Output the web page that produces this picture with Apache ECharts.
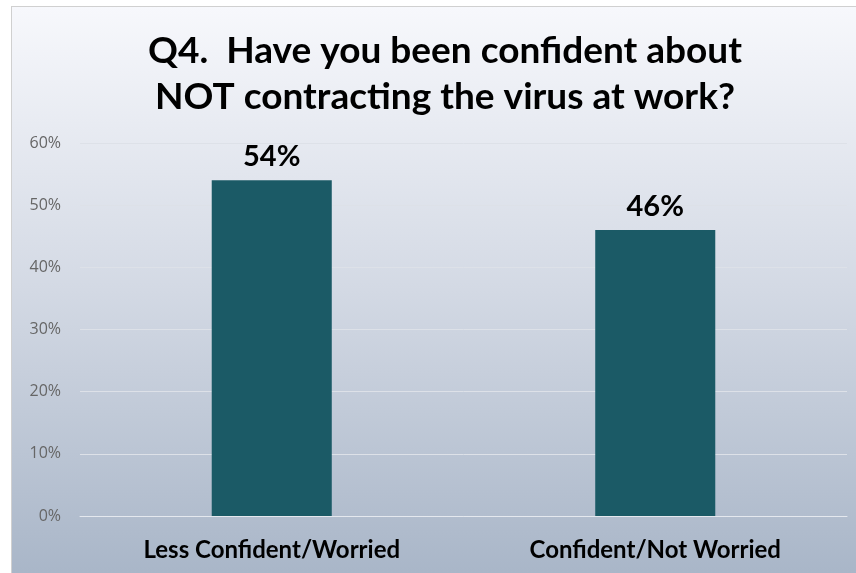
<!DOCTYPE html>
<html>
<head>
<meta charset="utf-8">
<script src="https://cdn.jsdelivr.net/npm/echarts@6/dist/echarts.min.js"></script>
<style>
html,body{margin:0;padding:0;background:#fff;width:856px;height:573px;overflow:hidden;}
#frame{position:absolute;left:11px;top:6px;width:845px;height:567px;border-left:1px solid #d0d0d0;border-top:1px solid #d0d0d0;box-sizing:border-box;}
#chart{position:absolute;left:12px;top:7px;width:844px;height:566px;}
</style>
</head>
<body>
<div id="frame"></div>
<div id="chart"></div>
<script>
var titleLines = ['Q4.  Have you been confident about', 'NOT contracting the virus at work?'];
var categories = ['Less Confident/Worried', 'Confident/Not Worried'];
var values = [54, 46];
var yTicks = [0, 10, 20, 30, 40, 50, 60];

var chart = echarts.init(document.getElementById('chart'), null, {renderer: 'canvas'});
chart.setOption({
  backgroundColor: new echarts.graphic.LinearGradient(0, 0, 0, 1, [
    {offset: 0, color: '#f7f8fc'},
    {offset: 0.5, color: '#d3d9e4'},
    {offset: 1, color: '#a9b6c8'}
  ]),
  animation: false,
  title: {
    text: titleLines.join('\n'),
    left: 428,
    top: 16,
    textAlign: 'center',
    textStyle: {fontFamily: 'Lato', fontWeight: 'bold', fontSize: 37, lineHeight: 46, color: '#000'}
  },
  grid: {left: 68, right: 9, top: 136, bottom: 57},
  xAxis: {
    type: 'category',
    data: categories,
    axisLine: {show: true, lineStyle: {color: '#e4e8ee', width: 1}},
    axisTick: {show: false},
    axisLabel: {fontFamily: 'Lato', fontWeight: 'bold', fontSize: 24, color: '#000', margin: 22}
  },
  yAxis: {
    type: 'value',
    min: yTicks[0],
    max: yTicks[yTicks.length - 1],
    interval: 10,
    axisLine: {show: false},
    axisTick: {show: false},
    splitLine: {lineStyle: {color: '#dde1e8', width: 1}},
    axisLabel: {fontFamily: 'Open Sans', fontSize: 16, color: '#666666', margin: 19, formatter: '{value}%'}
  },
  series: [{
    type: 'bar',
    data: values,
    barWidth: '31.3%',
    itemStyle: {color: '#1b5a66'},
    label: {show: true, position: 'top', distance: 9, formatter: '{c}%', fontFamily: 'Lato', fontWeight: 'bold', fontSize: 29, color: '#000'}
  }]
});
</script>
</body>
</html>
